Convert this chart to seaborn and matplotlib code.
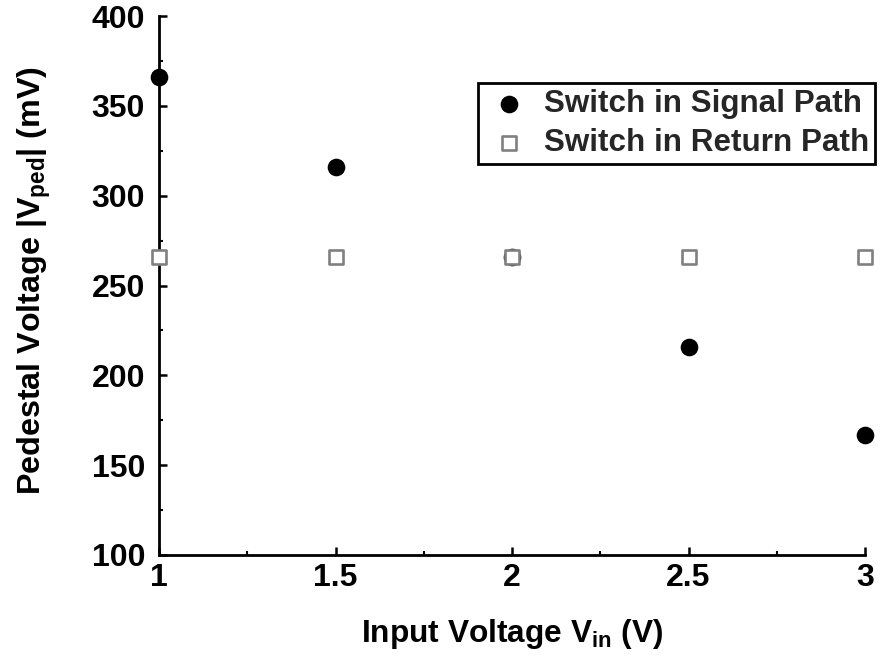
import matplotlib
matplotlib.use("Agg")
import matplotlib.pyplot as plt
import seaborn as sns
import pandas as pd
from matplotlib.ticker import MultipleLocator

vin = [1.0, 1.5, 2.0, 2.5, 3.0]
signal_path = [366, 316, 266, 216, 167]
return_path = [266, 266, 266, 266, 266]
series_names = ["Switch in Signal Path", "Switch in Return Path"]
x_ticks = [1, 1.5, 2, 2.5, 3]
x_tick_labels = ["1", "1.5", "2", "2.5", "3"]
y_ticks = [100, 150, 200, 250, 300, 350, 400]

sns.set_theme(style="ticks")
plt.rcParams["font.family"] = ["Liberation Sans", "DejaVu Sans"]
plt.rcParams["font.weight"] = "bold"
plt.rcParams["mathtext.default"] = "regular"

df_sig = pd.DataFrame({"vin": vin, "v": signal_path})
df_ret = pd.DataFrame({"vin": vin, "v": return_path})

fig = plt.figure(figsize=(8.8, 6.56), dpi=100)
ax = fig.add_axes([159/880, 1-555/656, (865-159)/880, (555-16)/656])

sns.scatterplot(data=df_sig, x="vin", y="v", ax=ax, marker="o", s=12.7**2,
                color="black", edgecolor="black", linewidth=0, label=series_names[0],
                zorder=3, clip_on=False)
sns.scatterplot(data=df_ret, x="vin", y="v", ax=ax, marker="s", s=9.6**2,
                facecolor="white", edgecolor="#808080", linewidth=1.9,
                label=series_names[1], zorder=4, clip_on=False)

ax.set_xlim(1, 3)
ax.set_ylim(100, 400)
ax.set_xticks(x_ticks)
ax.set_xticklabels(x_tick_labels)
ax.set_yticks(y_ticks)
ax.xaxis.set_minor_locator(MultipleLocator(0.25))
ax.yaxis.set_minor_locator(MultipleLocator(25))

for s in ["top", "right"]:
    ax.spines[s].set_visible(False)
for s in ["left", "bottom"]:
    ax.spines[s].set_linewidth(2.0)
    ax.spines[s].set_color("black")

ax.tick_params(axis="both", which="major", direction="in", length=6, width=1.8,
               labelsize=23, colors="black")
ax.tick_params(axis="both", which="minor", direction="in", length=3, width=1.5,
               colors="black")
ax.tick_params(axis="y", which="major", pad=10)
ax.tick_params(axis="x", which="major", pad=6)
for lab in ax.get_xticklabels() + ax.get_yticklabels():
    lab.set_fontweight("bold")

ax.set_xlabel(r"Input Voltage V$_{\mathregular{in}}$ (V)", fontsize=22.8, fontweight="bold",
              labelpad=17, color="black")
ax.set_ylabel(r"Pedestal Voltage |V$_{\mathregular{ped}}$| (mV)", fontsize=23.2,
              fontweight="bold", color="black")
ax.yaxis.set_label_coords(-0.150, 0.51)

leg = ax.legend(loc="upper left", bbox_to_anchor=(478/880, 1-83/656),
                bbox_transform=fig.transFigure, frameon=True, fancybox=False,
                prop={"weight": "bold", "size": 22.6},
                handletextpad=0.3, borderpad=0.2, labelspacing=0.28,
                markerscale=1.0, borderaxespad=0, handlelength=1.6)
leg.get_frame().set_edgecolor("black")
leg.get_frame().set_linewidth(2.0)
leg.get_frame().set_alpha(1)

fig.savefig("out.png", dpi=100)
